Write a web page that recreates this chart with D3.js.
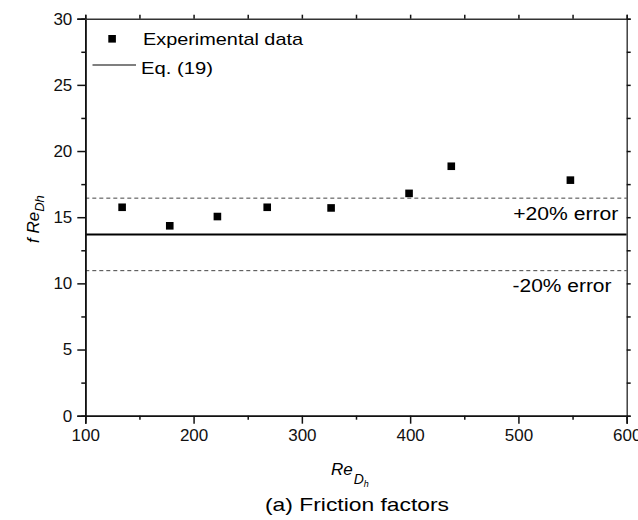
<!DOCTYPE html>
<html lang="en">
<head>
  <meta charset="UTF-8">
  <title>Friction factors</title>
  <script src="https://d3js.org/d3.v7.min.js"></script>
  <style>
    body { margin: 0; background: #fff; }
    svg { display: block; font-family: "Liberation Sans", Arial, sans-serif; }
  </style>
</head>
<body>
  <svg width="638" height="520"></svg>
  <script>
    // measured points
    const reDh = [134, 178, 222, 268, 327, 399, 438, 548];
    const fRe = [15.75, 14.35, 15.05, 15.75, 15.7, 16.8, 18.85, 17.8];
    // Eq. (19) and the +/-20% band
    const eqValue = 13.7;
    const errorFrac = 0.2;
    const xTicks = [100, 200, 300, 400, 500, 600];
    const xMinor = [150, 250, 350, 450, 550];
    const yTicks = [0, 5, 10, 15, 20, 25, 30];
    const yMinor = [2.5, 7.5, 12.5, 17.5, 22.5, 27.5];
    const legendLabels = ["Experimental data", "Eq. (19)"];

    const svg = d3.select("svg");
    const plotL = 85.3, plotR = 626.7, plotT = 18.7, plotB = 415.7;

    const x = d3.scaleLinear().domain([100, 600]).range([plotL, plotR]);
    const y = d3.scaleLinear().domain([0, 30]).range([plotB, plotT]);

    svg.append("rect").attr("width", 638).attr("height", 520).attr("fill", "#fff");

    // reference lines
    const refs = svg.append("g");
    [eqValue * (1 + errorFrac), eqValue * (1 - errorFrac)].forEach(v => {
      refs.append("line")
        .attr("x1", plotL).attr("x2", plotR)
        .attr("y1", y(v)).attr("y2", y(v))
        .attr("stroke", "#444").attr("stroke-width", 1)
        .attr("stroke-dasharray", "4,3");
    });
    refs.append("line")
      .attr("x1", plotL).attr("x2", plotR)
      .attr("y1", y(eqValue)).attr("y2", y(eqValue))
      .attr("stroke", "#000").attr("stroke-width", 2);

    // the source figure is a bit stretched sideways, hence textLength
    refs.append("text")
      .attr("x", 513.3).attr("y", 220)
      .attr("font-size", 18)
      .attr("textLength", 105).attr("lengthAdjust", "spacingAndGlyphs")
      .text("+20% error");
    refs.append("text")
      .attr("x", 512.5).attr("y", 292)
      .attr("font-size", 18)
      .attr("textLength", 99).attr("lengthAdjust", "spacingAndGlyphs")
      .text("-20% error");

    // axes
    const tickFmt = d3.format("d");
    svg.append("g")
      .attr("transform", `translate(0,${plotB})`)
      .call(d3.axisBottom(x).tickValues(xTicks).tickFormat(tickFmt).tickSize(8).tickPadding(5));
    svg.append("g")
      .attr("transform", `translate(0,${plotB})`)
      .call(d3.axisBottom(x).tickValues(xMinor).tickFormat("").tickSize(4));
    svg.append("g")
      .attr("transform", `translate(${plotL},0)`)
      .call(d3.axisLeft(y).tickValues(yTicks).tickFormat(tickFmt).tickSize(8).tickPadding(5));
    svg.append("g")
      .attr("transform", `translate(${plotL},0)`)
      .call(d3.axisLeft(y).tickValues(yMinor).tickFormat("").tickSize(4));
    svg.append("g").attr("class", "faint")
      .attr("transform", `translate(0,${plotT})`)
      .call(d3.axisTop(x).tickValues(xTicks.concat(xMinor)).tickFormat("").tickSize(4));
    svg.append("g").attr("class", "faint")
      .attr("transform", `translate(${plotR},0)`)
      .call(d3.axisRight(y).tickValues(yTicks.concat(yMinor)).tickFormat("").tickSize(4));

    svg.selectAll(".domain").attr("stroke", "#111").attr("stroke-width", 1.6);
    svg.selectAll(".tick line").attr("stroke", "#111").attr("stroke-width", 1.5);
    svg.selectAll(".faint .domain").attr("stroke", "#333").attr("stroke-width", 1.4);
    svg.selectAll(".tick text")
      .attr("font-size", 17).attr("fill", "#111")
      .attr("font-family", "Liberation Sans, Arial, sans-serif");

    // points
    svg.append("g")
      .selectAll("rect")
      .data(reDh.map((r, i) => [r, fRe[i]]))
      .join("rect")
        .attr("x", d => x(d[0]) - 3.8)
        .attr("y", d => y(d[1]) - 3.8)
        .attr("width", 7.6).attr("height", 7.6)
        .attr("fill", "#000");

    // legend
    const legend = svg.append("g").attr("font-size", 17);
    legend.append("rect")
      .attr("x", 108.3).attr("y", 35).attr("width", 7.6).attr("height", 7.6)
      .attr("fill", "#000");
    legend.append("text").attr("x", 143).attr("y", 45)
      .attr("textLength", 160).attr("lengthAdjust", "spacingAndGlyphs")
      .text(legendLabels[0]);
    legend.append("line")
      .attr("x1", 92.5).attr("x2", 136).attr("y1", 65).attr("y2", 65)
      .attr("stroke", "#000").attr("stroke-width", 1.2);
    legend.append("text").attr("x", 141).attr("y", 74)
      .attr("textLength", 72).attr("lengthAdjust", "spacingAndGlyphs")
      .text(legendLabels[1]);

    // axis titles
    const xt = svg.append("text")
      .attr("x", 331).attr("y", 475)
      .attr("font-size", 17).attr("font-style", "italic");
    xt.append("tspan").text("Re");
    xt.append("tspan").attr("font-size", 14).attr("dx", 1).attr("dy", 9).text("D");
    xt.append("tspan").attr("font-size", 9).attr("dy", 3).text("h");

    const yt = svg.append("text")
      .attr("transform", "translate(39,243) rotate(-90)")
      .attr("font-size", 17).attr("font-style", "italic");
    yt.append("tspan").text("f Re");
    yt.append("tspan").attr("font-size", 13).attr("dy", 5).text("Dh");

    svg.append("text")
      .attr("x", 265).attr("y", 511)
      .attr("font-size", 19)
      .attr("textLength", 184).attr("lengthAdjust", "spacingAndGlyphs")
      .text("(a) Friction factors");
  </script>
</body>
</html>
